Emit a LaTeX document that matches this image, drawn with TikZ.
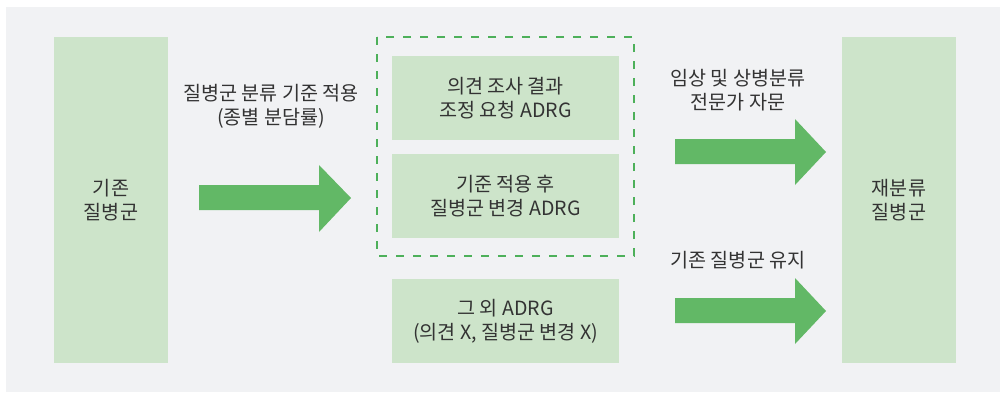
\documentclass[tikz,border=0pt]{standalone}
\usepackage{fontspec}
\setmainfont{Noto Sans CJK KR}
\definecolor{bggray}{HTML}{F1F2F4}
\definecolor{boxgreen}{HTML}{CDE4CA}
\definecolor{arrowgreen}{HTML}{62B866}
\definecolor{dashgreen}{HTML}{4DB05A}
\definecolor{txt}{HTML}{333333}
\begin{document}
\begin{tikzpicture}[x=1pt,y=-1pt,
  box/.style={fill=boxgreen, draw=none, inner sep=0pt, align=center, text=txt,
    font=\fontsize{19.6}{24}\selectfont},
  lbl/.style={inner sep=0pt, align=center, text=txt, font=\fontsize{19.6}{24}\selectfont},
  blockarrow/.style={fill=arrowgreen, draw=none},
  group/.style={draw=dashgreen, line width=1.4pt, dash pattern=on 8pt off 9pt, inner sep=0pt}]
\useasboundingbox (0,0) rectangle (1000,392);
\fill[white] (0,0) rectangle (1000,392);
\fill[bggray] (6,7) rectangle (1000,392);

% boxes
\node[box, minimum width=114pt, minimum height=326pt] (left) at (111,200) {기존\\질병군};
\node[box, minimum width=114pt, minimum height=326pt] (right) at (899,200) {재분류\\질병군};
\node[box, minimum width=227pt, minimum height=84pt] (boxA) at (505.5,98) {의견 조사 결과\\조정 요청 ADRG};
\node[box, minimum width=227pt, minimum height=84pt] (boxB) at (505.5,196) {기준 적용 후\\질병군 변경 ADRG};
\node[box, minimum width=227pt, minimum height=84pt] (boxC) at (505.5,321) {그 외 ADRG\\(의견 X, 질병군 변경 X)};

% dashed group
\draw[group] (377,37) rectangle (634,256);

% labels
\node[lbl] (l1) at (271,106) {질병군 분류 기준 적용\\(종별 분담률)};
\node[lbl] (l2) at (738,90) {임상 및 상병분류\\전문가 자문};
\node[lbl] (l3) at (738,260) {기존 질병군 유지};

% block arrows
\fill[blockarrow] (199,185) -- (319,185) -- (319,165) -- (351,198) -- (319,232) -- (319,210) -- (199,210) -- cycle;
\fill[blockarrow] (675,139) -- (795,139) -- (795,119) -- (826,152) -- (795,185) -- (795,164) -- (675,164) -- cycle;
\fill[blockarrow] (675,298) -- (795,298) -- (795,278) -- (826,311) -- (795,344) -- (795,323) -- (675,323) -- cycle;
\end{tikzpicture}
\end{document}
